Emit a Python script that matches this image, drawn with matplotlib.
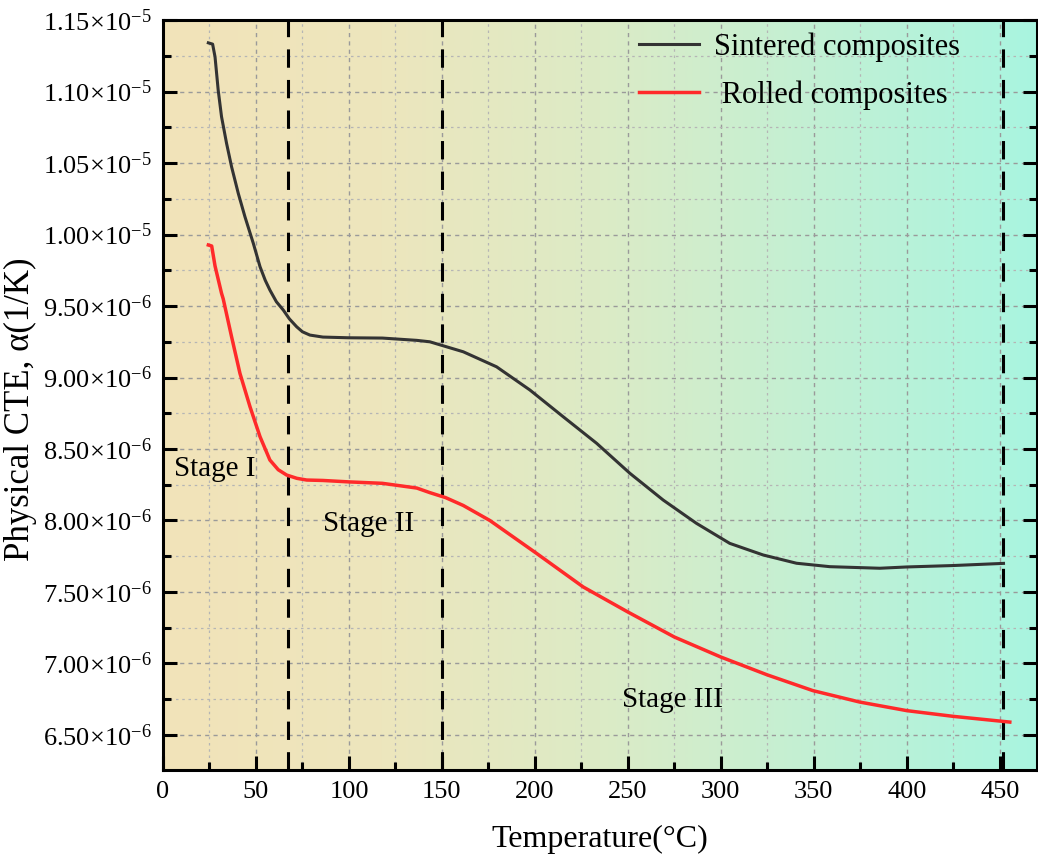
import numpy as np
import matplotlib
matplotlib.use("Agg")
import matplotlib.pyplot as plt
from matplotlib.colors import LinearSegmentedColormap
from matplotlib.ticker import MultipleLocator, FuncFormatter

plt.rcParams['font.family'] = ['Liberation Serif', 'DejaVu Serif']
plt.rcParams['mathtext.fontset'] = 'custom'
plt.rcParams['mathtext.rm'] = 'Liberation Serif'

# CTE curves (temperature in degC, alpha in 1/K)
temp_sintered = [24.4, 26.7, 28, 29.7, 31.5, 34.2, 36.9, 40.5, 44.1, 48.6,
                 52.2, 55, 57.5, 61, 64.7, 68, 71.9, 75, 79, 86, 100, 118,
                 136.5, 143.5, 161.5, 179.4, 197.3, 215.2, 233.2, 251.1, 269,
                 286.9, 304.8, 322.7, 340.7, 358.6, 385.5, 400, 425, 452]
cte_sintered = [1.1341e-5, 1.1332e-5, 1.1243e-5, 1.101e-5, 1.0824e-5,
                1.0638e-5, 1.0474e-5, 1.0288e-5, 1.0124e-5, 9.938e-6,
                9.775e-6, 9.68e-6, 9.612e-6, 9.53e-6, 9.472e-6, 9.41e-6,
                9.355e-6, 9.32e-6, 9.297e-6, 9.283e-6, 9.278e-6, 9.276e-6,
                9.26e-6, 9.25e-6, 9.18e-6, 9.075e-6, 8.913e-6, 8.726e-6,
                8.54e-6, 8.33e-6, 8.143e-6, 7.98e-6, 7.84e-6, 7.759e-6,
                7.701e-6, 7.677e-6, 7.666e-6, 7.675e-6, 7.685e-6, 7.70e-6]

temp_rolled = [24.4, 26.2, 28, 31.5, 32.4, 36.9, 41.4, 46.8, 52.2, 57.5,
               62, 66.5, 72, 77.3, 86, 100, 118, 136.5, 143.5, 152, 161.5,
               175.8, 200.9, 226, 250, 275, 300, 325, 349.5, 374.7, 400, 425,
               455.4]
cte_rolled = [9.927e-6, 9.92e-6, 9.78e-6, 9.589e-6, 9.55e-6, 9.285e-6,
              9.029e-6, 8.796e-6, 8.586e-6, 8.423e-6, 8.355e-6, 8.318e-6,
              8.295e-6, 8.283e-6, 8.28e-6, 8.27e-6, 8.26e-6, 8.227e-6,
              8.195e-6, 8.16e-6, 8.105e-6, 8.0e-6, 7.77e-6, 7.535e-6,
              7.36e-6, 7.185e-6, 7.045e-6, 6.92e-6, 6.81e-6, 6.73e-6,
              6.67e-6, 6.63e-6, 6.59e-6]

stage_bounds = [67, 150, 452]
stage_names = ['Stage I', 'Stage II', 'Stage III']
stage_pos = [(6, 8.36e-6), (86, 7.975e-6), (247, 6.745e-6)]

xmin, xmax = 0, 470
ymin, ymax = 6.255e-6, 1.15e-5

fig = plt.figure(figsize=(10.38, 8.56), dpi=100)
ax = fig.add_axes([0.157, 0.1005, 0.842, 0.876])

# warm-to-cool background wash
bg = LinearSegmentedColormap.from_list(
    'bg', ['#f2e3b9', '#ede6bd', '#dcebc6', '#c2f0d4', '#a9f5e0'])
grad = np.linspace(0, 1, 512).reshape(1, -1)
ax.imshow(grad, cmap=bg, extent=[xmin, xmax, ymin, ymax], aspect='auto',
          zorder=0, interpolation='bilinear')

ax.plot(temp_sintered, cte_sintered, color='#333333', lw=2.2,
        label='Sintered composites', zorder=3, solid_joinstyle='round')
ax.plot(temp_rolled, cte_rolled, color='#ff2a2a', lw=2.5,
        label=' Rolled composites', zorder=3, solid_joinstyle='round')

for xb in stage_bounds:
    ax.axvline(xb, color='black', lw=2.2, ls=(0, (6, 4)), zorder=2)

for name, (tx, ty) in zip(stage_names, stage_pos):
    ax.text(tx, ty, name, fontsize=21, ha='left', va='center')

ax.set_xlim(xmin, xmax)
ax.set_ylim(ymin, ymax)

ax.xaxis.set_major_locator(MultipleLocator(50))
ax.xaxis.set_minor_locator(MultipleLocator(25))
ax.yaxis.set_major_locator(MultipleLocator(0.5e-6))
ax.yaxis.set_minor_locator(MultipleLocator(0.25e-6))


def sci(v, pos):
    if v <= 0:
        return ''
    e = int(np.floor(np.log10(v) + 1e-9))
    m = v / 10 ** e
    return r'$\mathregular{%.2f{\times}10^{%d}}$' % (m, e)


ax.yaxis.set_major_formatter(FuncFormatter(sci))

ax.grid(which='major', color='#9a9a9a', lw=1.0, ls=(0, (3, 3)), zorder=1)
ax.grid(which='minor', color='#b5b5b5', lw=0.9, ls=(0, (2, 3)), zorder=1)

ax.tick_params(which='both', direction='in', width=2.2, labelsize=19,
               right=True, top=False)
ax.tick_params(which='major', length=10, pad=8)
ax.tick_params(which='minor', length=6)
for s in ax.spines.values():
    s.set_linewidth(2.2)

ax.set_xlabel('Temperature(°C)', fontsize=23, labelpad=16)
ax.set_ylabel('Physical CTE, α(1/K)', fontsize=25)
ax.yaxis.set_label_coords(-0.144, 0.481)

leg = ax.legend(loc='upper left', frameon=False, fontsize=22,
                handlelength=1.95, handletextpad=0.5, borderpad=0.4,
                borderaxespad=0, labelspacing=0.6,
                bbox_to_anchor=(0.531, 1.0))

fig.savefig('out.png', dpi=100)
